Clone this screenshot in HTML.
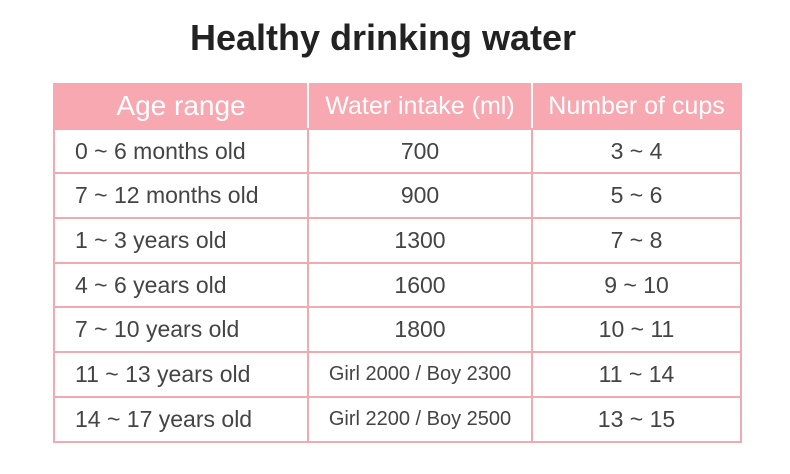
<!DOCTYPE html>
<html><head><style>
body{margin:0;width:790px;height:474px;background:#fff;position:relative;overflow:hidden;font-family:"Liberation Sans",sans-serif}
h1{position:absolute;left:0;width:766px;top:17px;margin:0;text-align:center;font-size:36px;font-weight:bold;color:#222}
table{position:absolute;left:53px;top:83px;border-collapse:collapse;width:687px;table-layout:fixed}
tr{height:44.7px}
td,th{border:2px solid #f0aab2;text-align:center;font-size:23px;color:#444;font-weight:normal;padding:0}
th{background:#f8a8b1;color:#fff;font-size:25px;border-color:#f8a8b1;border-right:2px solid #fff}
th:last-child{border-right-color:#f8a8b1}
td:first-child{text-align:left;padding-left:20px}
.s{font-size:20px}
</style></head><body>
<h1>Healthy drinking water</h1>
<table>
<colgroup><col style="width:254px"><col style="width:224px"><col style="width:209px"></colgroup>
<tr><th style="font-size:28px">Age range</th><th>Water intake (ml)</th><th>Number of cups</th></tr>
<tr><td>0 ~ 6 months old</td><td>700</td><td>3 ~ 4</td></tr>
<tr><td>7 ~ 12 months old</td><td>900</td><td>5 ~ 6</td></tr>
<tr><td>1 ~ 3 years old</td><td>1300</td><td>7 ~ 8</td></tr>
<tr><td>4 ~ 6 years old</td><td>1600</td><td>9 ~ 10</td></tr>
<tr><td>7 ~ 10 years old</td><td>1800</td><td>10 ~ 11</td></tr>
<tr><td>11 ~ 13 years old</td><td class="s">Girl 2000 / Boy 2300</td><td>11 ~ 14</td></tr>
<tr><td>14 ~ 17 years old</td><td class="s">Girl 2200 / Boy 2500</td><td>13 ~ 15</td></tr>
</table>
</body></html>
